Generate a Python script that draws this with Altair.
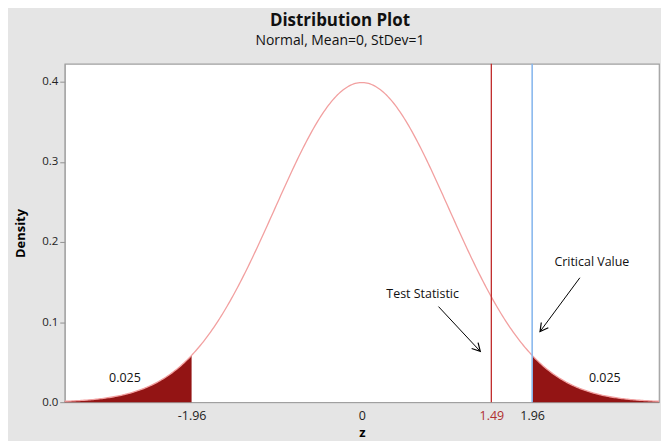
import math
import numpy as np
import pandas as pd
import altair as alt

# ---- values ----
mean = 0.0
sd = 1.0
z_min, z_max = -3.42, 3.42
critical = [-1.96, 1.96]
test_stat = 1.49
x_ticks = [-1.96, 0, 1.49, 1.96]
y_ticks = [0.0, 0.1, 0.2, 0.3, 0.4]
tail_labels = ["0.025", "0.025"]
tail_label_x = [-2.727, 2.796]
tail_label_y = [0.0298, 0.0298]
ann_text = ["Test Statistic", "Critical Value"]
ann_x = [0.699, 2.647]
ann_y = [0.1354, 0.1752]
arrow_x = [0.882, 2.509]
arrow_y = [0.1193, 0.1553]
arrow_x2 = [1.363, 2.051]
arrow_y2 = [0.0634, 0.0882]

W, H = 597, 340
y_top = 0.4224
FONT = "Open Sans"

# sampling grid for the density curve (pdf evaluated by Vega expression)
grid = np.unique(np.concatenate([np.linspace(z_min, z_max, 400), critical]))
curve = pd.DataFrame({"z": grid})
pdf = f"exp(-pow((datum.z - {mean}) / {sd}, 2) / 2) / ({sd} * sqrt(2 * PI))"

xs = alt.Scale(domain=[z_min, z_max], nice=False, zero=False)
ys = alt.Scale(domain=[0, y_top], nice=False)

base = alt.Chart(curve).transform_calculate(d=pdf)

xaxis = alt.Axis(
    values=x_ticks, ticks=False, grid=False, labelFontSize=12.5, labelPadding=7,
    labelExpr="toString(datum.value)",
    labelColor={"condition": {"test": f"datum.value == {test_stat}", "value": "#b03030"}, "value": "#222222"},
    title="z", titleFontSize=13, titleFontWeight="bold", titlePadding=5,
    domainColor="#a0a0a0", labelFont=FONT, titleFont=FONT, labelFlush=False,
)
yaxis = alt.Axis(
    values=y_ticks, format=".1f", grid=False, tickSize=5, tickColor="#909090",
    labelFontSize=11.5, labelPadding=2, title="Density", titleFontSize=13,
    titleFontWeight="bold", titlePadding=14, domainColor="#a0a0a0",
    labelFont=FONT, titleFont=FONT, labelColor="#222222",
)

left_tail = base.transform_filter(f"datum.z <= {critical[0]} + 1e-9").mark_area(
    color="#931414", opacity=1
).encode(x=alt.X("z:Q", scale=xs, axis=xaxis), y=alt.Y("d:Q", scale=ys, axis=yaxis))
right_tail = base.transform_filter(f"datum.z >= {critical[1]} - 1e-9").mark_area(
    color="#931414", opacity=1
).encode(x=alt.X("z:Q", scale=xs), y=alt.Y("d:Q", scale=ys))

line = base.mark_line(color="#f2a0a0", strokeWidth=1.3).encode(
    x=alt.X("z:Q", scale=xs), y=alt.Y("d:Q", scale=ys)
)

crit_rule = alt.Chart(pd.DataFrame({"z": [critical[1]]})).mark_rule(
    color="#8ab8ee", strokeWidth=1.6
).encode(x=alt.X("z:Q", scale=xs))
ts_rule = alt.Chart(pd.DataFrame({"z": [test_stat]})).mark_rule(
    color="#c02a2a", strokeWidth=1.3
).encode(x=alt.X("z:Q", scale=xs))

# annotations
px_x = W / (z_max - z_min)
px_y = H / y_top
angles = [
    math.degrees(math.atan2((y1 - y2) * px_y, (x2 - x1) * px_x))
    for x1, y1, x2, y2 in zip(arrow_x, arrow_y, arrow_x2, arrow_y2)
]
arr = pd.DataFrame({"x": arrow_x, "y": arrow_y, "x2": arrow_x2, "y2": arrow_y2, "a": angles})
shaft = alt.Chart(arr).mark_rule(color="black", strokeWidth=1).encode(
    x=alt.X("x:Q", scale=xs), y=alt.Y("y:Q", scale=ys), x2="x2:Q", y2="y2:Q"
)
head = alt.Chart(arr).mark_point(
    shape="M-2,-1.1L0,0L-2,1.1", filled=False, color="black", strokeWidth=1.2, size=64, opacity=1
).encode(x=alt.X("x2:Q", scale=xs), y=alt.Y("y2:Q", scale=ys), angle=alt.Angle("a:Q", scale=None))

ann = alt.Chart(pd.DataFrame({"x": ann_x, "y": ann_y, "t": ann_text})).mark_text(
    fontSize=12.5, font=FONT, color="#111111"
).encode(x=alt.X("x:Q", scale=xs), y=alt.Y("y:Q", scale=ys), text="t:N")
tails = alt.Chart(pd.DataFrame({"x": tail_label_x, "y": tail_label_y, "t": tail_labels})).mark_text(
    fontSize=12.5, font=FONT, color="#111111"
).encode(x=alt.X("x:Q", scale=xs), y=alt.Y("y:Q", scale=ys), text="t:N")

chart = alt.layer(left_tail, right_tail, line, ts_rule, crit_rule, shaft, head, ann, tails).properties(
    width=W, height=H,
    autosize=alt.AutoSizeParams(type="none"),
    padding={"left": 57, "top": 55, "right": 2, "bottom": 40},
    background="#e5e5e5",
    title=alt.TitleParams(
        text="Distribution Plot", subtitle="Normal, Mean=0, StDev=1",
        anchor="middle", dx=-22, fontSize=17, fontWeight="bold", font=FONT,
        subtitleFontSize=14, subtitleFont=FONT, subtitlePadding=4, offset=14,
        color="#111111", subtitleColor="#111111",
    ),
).configure_view(fill="white", stroke="#a0a0a0", strokeWidth=1.2)

chart.save("out.html", embed_options={"renderer": "svg", "actions": False})
